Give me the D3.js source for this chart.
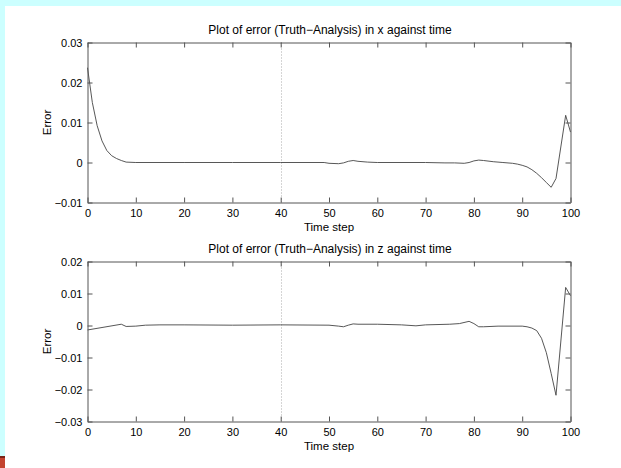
<!DOCTYPE html>
<html>
<head>
<meta charset="utf-8">
<script src="https://cdn.jsdelivr.net/npm/d3@7"></script>
<style>
  body { margin: 0; background: #ccffff; }
  svg { display: block; }
  text { font-family: "Liberation Sans", Arial, Helvetica, sans-serif; fill: #000; }
</style>
</head>
<body>
<div id="chart"></div>
<script>
// error in x (keypoints)
var xTime = [0,1,2,3,4,5,6,7,8,10,20,30,40,49,50,52,53,54,55,56,58,60,70,74,76,78,79,80,81,82,84,86,88,89,90,91,92,93,94,95,96,97,99,100];
var xErr = [0.0237,0.0150,0.0092,0.0054,0.0030,0.0017,0.0010,0.0005,0.0001,0,0,0,0,0,-0.0002,-0.0003,-0.0001,0.0003,0.0005,0.0003,0.0001,0,0,-0.0001,-0.0001,-0.0002,0,0.0004,0.0006,0.0005,0.0002,0,-0.0002,-0.0004,-0.0007,-0.0011,-0.0018,-0.0027,-0.0038,-0.0050,-0.0062,-0.0040,0.0118,0.0076];

// error in z
var zTime = [0,7,8,10,12,15,20,30,40,50,52,53,54,55,56,60,65,68,70,75,77,79,80,81,82,85,90,91,92,93,94,95,96,97,99,100];
var zErr = [-0.0014,0.0004,-0.0003,-0.0002,0.0001,0.0002,0.0002,0.0001,0.0002,0.0001,-0.0002,-0.0004,0.0001,0.0005,0.0004,0.0004,0.0002,-0.0001,0.0002,0.0004,0.0006,0.0013,0.0006,-0.0004,-0.0004,-0.0002,-0.0002,-0.0004,-0.0008,-0.0016,-0.0040,-0.0085,-0.0150,-0.0218,0.0119,0.0093];

var timeTicks = [0,10,20,30,40,50,60,70,80,90,100];
var xErrTicks = [-0.01,0,0.01,0.02,0.03];
var zErrTicks = [-0.03,-0.02,-0.01,0,0.01,0.02];
var markerTime = 40;

var titles = ["Plot of error (Truth\u2212Analysis) in x against time",
              "Plot of error (Truth\u2212Analysis) in z against time"];

var width = 621, height = 468;

var svg = d3.select("#chart").append("svg")
  .attr("width", width)
  .attr("height", height);

// white figure area
svg.append("rect")
  .attr("x", 5).attr("y", 6)
  .attr("width", width - 5).attr("height", height - 6)
  .attr("fill", "#ffffff");

// little red corner
svg.append("rect")
  .attr("x", 0).attr("y", 457).attr("width", 5).attr("height", 11)
  .attr("fill", "#c4432f");
svg.append("rect")
  .attr("x", 0).attr("y", 456).attr("width", 5).attr("height", 2)
  .attr("fill", "#7a2418");

var fmt = function(d) { return d === 0 ? "0" : d3.format(".2f")(d); };

function drawPanel(cfg) {
  var x = d3.scaleLinear().domain([0, 100]).range([87.5, 570.5]);
  var y = d3.scaleLinear().domain(cfg.domain).range([cfg.bottom, cfg.top]);

  var g = svg.append("g");

  // dotted marker line
  g.append("line")
    .attr("x1", Math.round(x(markerTime)) + 0.5)
    .attr("x2", Math.round(x(markerTime)) + 0.5)
    .attr("y1", cfg.top).attr("y2", cfg.bottom)
    .attr("stroke", "#aaa")
    .attr("stroke-dasharray", "1,2");

  var line = d3.line()
    .x(function(d) { return x(d[0]); })
    .y(function(d) { return y(d[1]); });

  g.append("path")
    .datum(d3.zip(cfg.t, cfg.v))
    .attr("d", line)
    .attr("fill", "none")
    .attr("stroke", "#444")
    .attr("stroke-width", 0.9);

  var bottomAxis = d3.axisBottom(x).tickValues(timeTicks)
    .tickSizeInner(-5).tickSizeOuter(0).tickPadding(7);
  var topAxis = d3.axisTop(x).tickValues(timeTicks)
    .tickSizeInner(-5).tickSizeOuter(0).tickFormat("");
  var leftAxis = d3.axisLeft(y).tickValues(cfg.ticks)
    .tickSizeInner(-5).tickSizeOuter(0).tickPadding(5).tickFormat(fmt);
  var rightAxis = d3.axisRight(y).tickValues(cfg.ticks)
    .tickSizeInner(-5).tickSizeOuter(0).tickFormat("");

  var axes = [
    [bottomAxis, "translate(0," + cfg.bottom + ")"],
    [topAxis, "translate(0," + cfg.top + ")"],
    [leftAxis, "translate(87.5,0)"],
    [rightAxis, "translate(570.5,0)"]
  ];
  axes.forEach(function(a) {
    var ag = g.append("g").attr("transform", a[1]).call(a[0]);
    ag.selectAll("path, line").attr("stroke", "#555");
    ag.selectAll("text").attr("font-size", "11px")
      .attr("font-family", "'Liberation Sans', Arial, sans-serif").attr("fill", "#000");
  });

  g.append("text")
    .attr("x", 330).attr("y", cfg.top - 9)
    .attr("text-anchor", "middle")
    .attr("font-size", "12px")
    .text(cfg.title);

  g.append("text")
    .attr("x", 329).attr("y", cfg.bottom + 28)
    .attr("text-anchor", "middle")
    .attr("font-size", "11.5px")
    .text("Time step");

  g.append("text")
    .attr("transform", "translate(51," + ((cfg.top + cfg.bottom) / 2) + ") rotate(-90)")
    .attr("text-anchor", "middle")
    .attr("font-size", "11.5px")
    .text("Error");
}

drawPanel({ t: xTime, v: xErr, domain: [-0.01, 0.03], ticks: xErrTicks,
            top: 42.5, bottom: 202.5, title: titles[0] });
drawPanel({ t: zTime, v: zErr, domain: [-0.03, 0.02], ticks: zErrTicks,
            top: 261.5, bottom: 421.5, title: titles[1] });
</script>
</body>
</html>
